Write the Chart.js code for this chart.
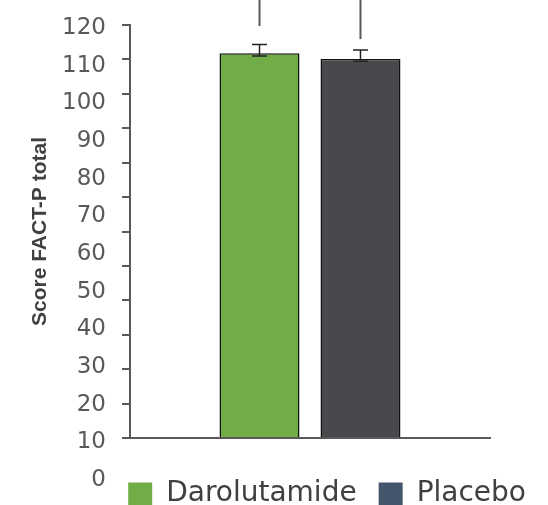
<!DOCTYPE html>
<html>
<head>
<meta charset="utf-8">
<script src="https://cdn.jsdelivr.net/npm/chart.js@4"></script>
<style>
  body { margin: 0; background: #fff; }
  #box { width: 548px; height: 505px; }
</style>
</head>
<body>
<div id="box"><canvas id="grafica"></canvas></div>
<script>
//DATOS
const categorias = [''];
const series = ['Darolutamide', 'Placebo'];
const puntajes = [111.8, 110.1];
const errorAlto = [114.3, 112.7];
const errorBajo = [111.0, 109.5];
const lineaDesde = [119.7, 115.9];
const etiquetasY = [0, 10, 20, 30, 40, 50, 60, 70, 80, 90, 100, 110, 120];
//DATOS
const coloresBarra = ['#70ad47', '#49484d'];
const coloresLeyenda = ['#70ad47', '#44546a'];
const gris = '#595959';

//barras de error y lineas de arriba
const extras = {
    id: 'extras',
    afterDatasetsDraw(chart) {
        const ctx = chart.ctx;
        const y = chart.scales.y;
        ctx.save();
        chart.data.datasets.forEach((ds, i) => {
            const bar = chart.getDatasetMeta(i).data[0];
            const yA = y.getPixelForValue(errorAlto[i]);
            const yB = y.getPixelForValue(errorBajo[i]);
            ctx.strokeStyle = '#222';
            ctx.lineWidth = 1.5;
            ctx.beginPath();
            ctx.moveTo(bar.x, yA); ctx.lineTo(bar.x, yB);
            ctx.moveTo(bar.x - 7.5, yA); ctx.lineTo(bar.x + 7.5, yA);
            ctx.moveTo(bar.x - 7.5, yB); ctx.lineTo(bar.x + 7.5, yB);
            ctx.stroke();
            ctx.strokeStyle = gris;
            ctx.lineWidth = 2;
            ctx.beginPath();
            ctx.moveTo(bar.x, 0);
            ctx.lineTo(bar.x, y.getPixelForValue(lineaDesde[i]));
            ctx.stroke();
        });
        ctx.restore();
    }
};

const datasets = series.map((nombre, i) => ({
    label: nombre,
    data: [puntajes[i]],
    backgroundColor: coloresBarra[i],
    borderColor: '#111',
    borderWidth: 1.5,
    categoryPercentage: 0.561,
    barPercentage: 0.792
}));

new Chart(document.getElementById('grafica'), {
    type: 'bar',
    data: { labels: categorias, datasets: datasets },
    plugins: [extras],
    options: {
        responsive: true,
        maintainAspectRatio: false,
        animation: false,
        layout: { padding: { top: 25, bottom: -13, left: 0, right: 0 } },
        plugins: {
            tooltip: { enabled: false },
            legend: {
                position: 'bottom',
                align: 'end',
                labels: {
                    boxWidth: 24,
                    boxHeight: 23,
                    padding: 22,
                    color: '#404040',
                    font: { family: 'DejaVu Sans', size: 28 },
                    generateLabels(chart) {
                        const items = Chart.defaults.plugins.legend.labels.generateLabels(chart);
                        items.forEach((it, i) => {
                            it.fillStyle = coloresLeyenda[i];
                            it.strokeStyle = coloresLeyenda[i];
                            it.lineWidth = 0;
                        });
                        return items;
                    }
                }
            }
        },
        scales: {
            x: {
                type: 'category',
                grid: { display: false },
                border: { display: true, color: gris, width: 2 },
                ticks: { display: false },
                afterFit(axis) { axis.height = 20; }
            },
            y: {
                position: 'left',
                weight: 0,
                min: 0,
                max: 120,
                ticks: { display: false, stepSize: 10 },
                grid: { display: true, drawOnChartArea: false, drawTicks: true, tickLength: 8, color: gris, lineWidth: 2 },
                border: { display: true, color: gris, width: 2 },
                afterFit(axis) { axis.paddingTop = 0; axis.paddingBottom = 0; }
            },
            yEtiquetas: {
                type: 'linear',
                position: 'left',
                weight: 10,
                min: 11.15,
                max: 120.8,
                grid: { display: false, drawTicks: false },
                border: { display: false },
                ticks: { padding: 16, autoSkip: false, color: gris, font: { family: 'DejaVu Sans', size: 23 } },
                afterBuildTicks(axis) { axis.ticks = etiquetasY.map(v => ({ value: v })); },
                title: {
                    display: true,
                    text: 'Score FACT-P total',
                    color: '#404040',
                    font: { family: 'Liberation Sans', size: 21, weight: 'bold' },
                    padding: { top: 28, bottom: 0 }
                },
                afterFit(axis) {
                    axis.width = 122;
                    axis.paddingTop = 0;
                    axis.paddingBottom = 0;
                }
            },
            yDerecha: {
                type: 'linear',
                position: 'right',
                grid: { display: false, drawTicks: false },
                border: { display: false },
                ticks: { display: false },
                afterFit(axis) { axis.width = 58; axis.paddingTop = 0; axis.paddingBottom = 0; }
            }
        }
    }
});
</script>
</body>
</html>
